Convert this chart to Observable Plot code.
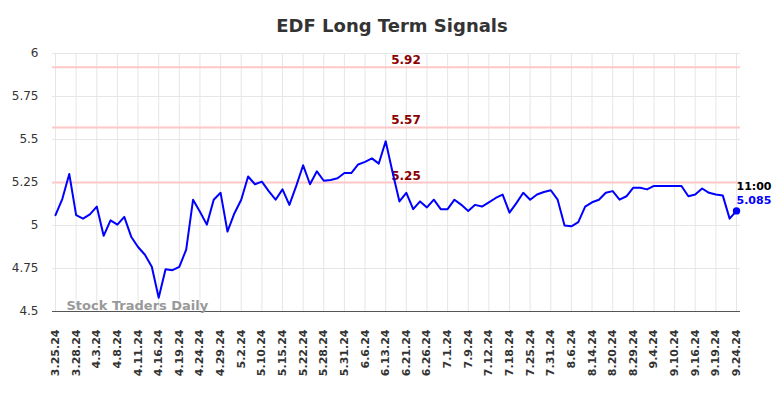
<!DOCTYPE html>
<html>
<head>
<meta charset="utf-8">
<script src="https://cdn.jsdelivr.net/npm/d3@7"></script>
<script src="https://cdn.jsdelivr.net/npm/@observablehq/plot@0.6"></script>
<style>
  html, body { margin: 0; padding: 0; background: #fff; }
  #title { font-family: "DejaVu Sans", sans-serif; font-weight: bold; font-size: 18px; color: #333;
           text-align: center; width: 784px; height: 25px; padding-top: 15px; line-height: 21px; }
  #chart svg { display: block; }
</style>
</head>
<body>
<div id="title">EDF Long Term Signals</div>
<div id="chart"></div>
<script>
// Tick labels (one every 3 observations)
const xTickLabels = ["3.25.24","3.28.24","4.3.24","4.8.24","4.11.24","4.16.24","4.19.24","4.24.24","4.29.24","5.2.24",
  "5.10.24","5.15.24","5.22.24","5.28.24","5.31.24","6.6.24","6.13.24","6.21.24","6.26.24","7.1.24",
  "7.9.24","7.12.24","7.18.24","7.25.24","7.31.24","8.6.24","8.14.24","8.20.24","8.29.24","9.4.24",
  "9.10.24","9.16.24","9.19.24","9.24.24"];
const tickStep = 3;

// Price series (100 observations)
const prices = [
  5.06, 5.155, 5.30, 5.06, 5.04, 5.065, 5.11, 4.94, 5.03, 5.005,
  5.05, 4.935, 4.875, 4.83, 4.76, 4.58, 4.745, 4.74, 4.76, 4.86,
  5.15, 5.08, 5.005, 5.15, 5.19, 4.965, 5.07, 5.15, 5.285, 5.24,
  5.255, 5.20, 5.15, 5.21, 5.12, 5.23, 5.35, 5.24, 5.315, 5.26,
  5.265, 5.275, 5.305, 5.305, 5.355, 5.37, 5.39, 5.36, 5.49, 5.31,
  5.14, 5.19, 5.095, 5.14, 5.105, 5.15, 5.095, 5.095, 5.15, 5.12,
  5.085, 5.12, 5.11, 5.135, 5.16, 5.18, 5.075, 5.13, 5.19, 5.15,
  5.18, 5.195, 5.205, 5.15, 5.00, 4.995, 5.02, 5.11, 5.135, 5.15,
  5.19, 5.20, 5.15, 5.17, 5.22, 5.22, 5.21, 5.23, 5.23, 5.23,
  5.23, 5.23, 5.17, 5.18, 5.215, 5.19, 5.18, 5.175, 5.04, 5.085
];

// Signal levels
const signals = [5.92, 5.57, 5.25];
const yTicks = [4.5, 4.75, 5, 5.25, 5.5, 5.75, 6];
const lastTime = "11:00";
const lastPrice = "5.085";
const watermark = "Stock Traders Daily";
const signalLabelX = 48.8;

const data = prices.map((v, i) => ({i, v}));
const tickIdx = xTickLabels.map((_, k) => k * tickStep);
const last = data[data.length - 1];

const chart = Plot.plot({
  width: 784,
  height: 358,
  marginTop: 13,
  marginBottom: 87,
  marginLeft: 55,
  marginRight: 48,
  style: {fontFamily: "DejaVu Sans, sans-serif", background: "#fff", overflow: "visible"},
  x: {domain: [0, prices.length - 1]},
  y: {domain: [4.5, 6]},
  marks: [
    Plot.gridX(tickIdx, {stroke: "#e6e6e6", strokeOpacity: 1}),
    Plot.ruleY(yTicks, {stroke: "#e6e6e6", insetLeft: -3, insetRight: -4}),
    Plot.ruleY(signals, {stroke: "#ffc8c8", strokeWidth: 2, insetLeft: -3, insetRight: -4}),
    Plot.ruleY([4.5], {stroke: "#555", strokeWidth: 1.2, insetLeft: -3, insetRight: -4}),
    Plot.axisY(yTicks, {tickSize: 0, tickPadding: 17, fontSize: 12, fill: "#333", tickFormat: d => String(d), label: null}),
    Plot.axisX(tickIdx, {tickSize: 0, tickPadding: 18, tickRotate: -90, fontSize: 11, fontWeight: "bold", fill: "#333",
      tickFormat: d => xTickLabels[d / tickStep], label: null}),
    Plot.text([watermark], {frameAnchor: "bottom-left", text: d => d, textAnchor: "start", lineAnchor: "bottom",
      dx: 11, dy: -2, fontSize: 13, fontWeight: "bold", fill: "#999"}),
    Plot.text(signals, {x: () => signalLabelX, y: d => d, text: d => d.toFixed(2), textAnchor: "start", lineAnchor: "bottom",
      dy: -3, fontSize: 12, fontWeight: "bold", fill: "#8b0000"}),
    Plot.line(data, {x: "i", y: "v", stroke: "#0000ff", strokeWidth: 2}),
    Plot.dot([last], {x: "i", y: "v", r: 3.7, fill: "#0000ff"}),
    Plot.text([last], {x: "i", y: "v", text: () => lastTime, textAnchor: "start", dy: -24, fontSize: 11, fontWeight: "bold", fill: "#000"}),
    Plot.text([last], {x: "i", y: "v", text: () => lastPrice, textAnchor: "start", dy: -10, fontSize: 11, fontWeight: "bold", fill: "#0000ff"})
  ]
});
document.getElementById("chart").appendChild(chart);
</script>
</body>
</html>
